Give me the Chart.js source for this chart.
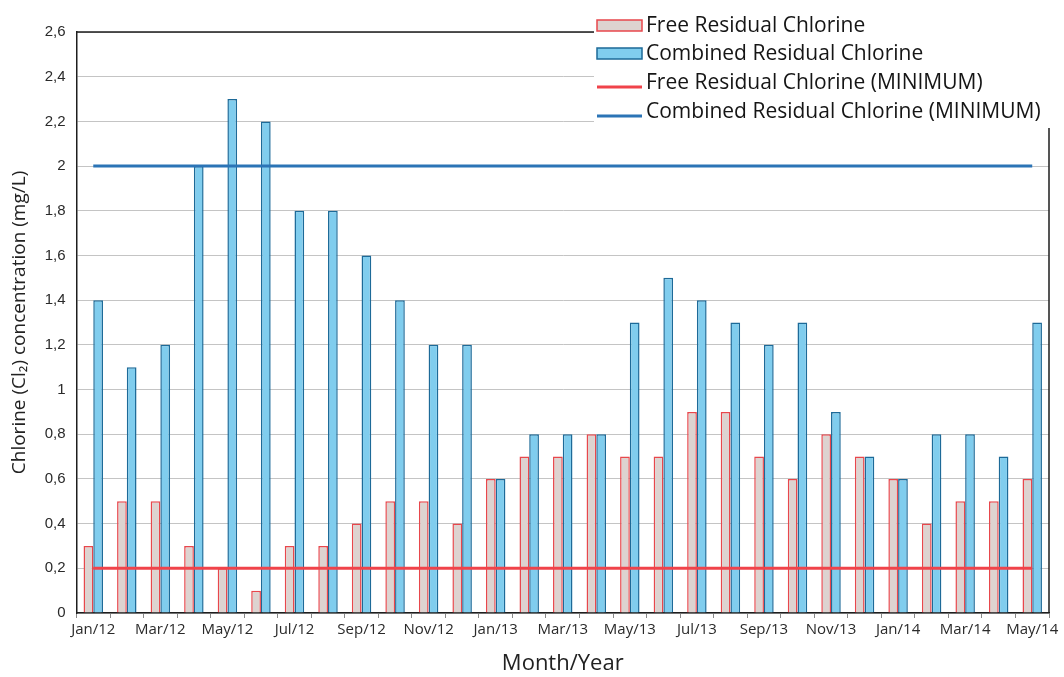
<!DOCTYPE html>
<html>
<head>
<meta charset="utf-8">
<script src="https://cdn.jsdelivr.net/npm/chart.js@4/dist/chart.umd.min.js"></script>
<style>
  html, body { margin: 0; padding: 0; background: #ffffff; }
  #wrap { width: 1064px; height: 677px; position: relative; }
</style>
</head>
<body>
<div id="wrap"><canvas id="c" width="1064" height="677"></canvas></div>
<script>
// Monthly sampling periods
const months = [
  'Jan/12','Feb/12','Mar/12','Apr/12','May/12','Jun/12','Jul/12','Aug/12','Sep/12','Oct/12','Nov/12','Dec/12',
  'Jan/13','Feb/13','Mar/13','Apr/13','May/13','Jun/13','Jul/13','Aug/13','Sep/13','Oct/13','Nov/13','Dec/13',
  'Jan/14','Feb/14','Mar/14','Apr/14','May/14'
];

// Free residual chlorine (mg/L)
const freeResidual = [
  0.3, 0.5, 0.5, 0.3, 0.2, 0.1, 0.3, 0.3, 0.4, 0.5, 0.5, 0.4,
  0.6, 0.7, 0.7, 0.8, 0.7, 0.7, 0.9, 0.9, 0.7, 0.6, 0.8, 0.7,
  0.6, 0.4, 0.5, 0.5, 0.6
];

// Combined residual chlorine (mg/L)
const combinedResidual = [
  1.4, 1.1, 1.2, 2.0, 2.3, 2.2, 1.8, 1.8, 1.6, 1.4, 1.2, 1.2,
  0.6, 0.8, 0.8, 0.8, 1.3, 1.5, 1.4, 1.3, 1.2, 1.3, 0.9, 0.7,
  0.6, 0.8, 0.8, 0.7, 1.3
];

// Regulatory minimum levels (mg/L)
const freeMinimum = 0.2;
const combinedMinimum = 2.0;

// Value axis range
const yMin = 0;
const yMax = 2.6;
const yStep = 0.2;

const seriesLabels = [
  'Free Residual Chlorine',
  'Combined Residual Chlorine',
  'Free Residual Chlorine (MINIMUM)',
  'Combined Residual Chlorine (MINIMUM)'
];

const COL = {
  freeFill: '#ddd3d0',
  freeBorder: '#e8474c',
  combFill: '#80cdee',
  combBorder: '#1d6a98',
  freeLine: '#f0434a',
  combLine: '#2b74b6',
  grid: '#c4c4c4',
  axis: '#1e1e1e',
  text: '#2a2a2a'
};

const first = months[0];
const last = months[months.length - 1];

// Frame lines plus the legend panel at the upper right
const framePlugin = {
  id: 'frame',
  beforeDatasetsDraw(chart) {
    const { ctx, chartArea: a } = chart;
    ctx.save();
    ctx.strokeStyle = COL.axis;
    ctx.lineWidth = 1.5;
    ctx.beginPath();
    ctx.moveTo(a.left, a.top);
    ctx.lineTo(a.right, a.top);
    ctx.moveTo(a.right, a.top);
    ctx.lineTo(a.right, a.bottom);
    ctx.stroke();
    ctx.restore();
  },
  afterDraw(chart) {
    const { ctx } = chart;
    const panelX = 594, panelY = 0, panelW = 1064 - 594, panelH = 128;
    ctx.save();
    ctx.fillStyle = '#ffffff';
    ctx.fillRect(panelX, panelY, panelW, panelH);

    const boxX = 597, boxW = 45;
    const textX = 646;
    const baselines = [32, 60, 89, 118];
    ctx.font = '21px "Open Sans"';
    ctx.textBaseline = 'alphabetic';
    ctx.textAlign = 'left';
    chart.data.datasets.forEach((ds, i) => {
      const b = baselines[i];
      if (ds.type === 'line') {
        ctx.strokeStyle = ds.borderColor;
        ctx.lineWidth = 3;
        ctx.beginPath();
        ctx.moveTo(boxX, b - 2);
        ctx.lineTo(boxX + boxW, b - 2);
        ctx.stroke();
      } else {
        ctx.fillStyle = ds.backgroundColor;
        ctx.fillRect(boxX, b - 12, boxW, 11);
        ctx.strokeStyle = ds.borderColor;
        ctx.lineWidth = 1.5;
        ctx.strokeRect(boxX, b - 12, boxW, 11);
      }
      ctx.fillStyle = '#151515';
      ctx.fillText(ds.label, textX, b);
    });
    ctx.restore();
  }
};

const fmt = v => {
  const n = Number(v.toFixed(1));
  return String(n).replace('.', ',');
};

new Chart(document.getElementById('c'), {
  type: 'bar',
  data: {
    labels: months,
    datasets: [
      {
        type: 'bar',
        label: seriesLabels[0],
        data: freeResidual,
        backgroundColor: COL.freeFill,
        borderColor: COL.freeBorder,
        borderWidth: 1.5,
        borderSkipped: 'bottom',
        order: 2
      },
      {
        type: 'bar',
        label: seriesLabels[1],
        data: combinedResidual,
        backgroundColor: COL.combFill,
        borderColor: COL.combBorder,
        borderWidth: 1.5,
        borderSkipped: 'bottom',
        order: 2
      },
      {
        type: 'line',
        label: seriesLabels[2],
        data: [{ x: first, y: freeMinimum }, { x: last, y: freeMinimum }],
        borderColor: COL.freeLine,
        backgroundColor: COL.freeLine,
        borderWidth: 3,
        pointRadius: 0,
        order: 1
      },
      {
        type: 'line',
        label: seriesLabels[3],
        data: [{ x: first, y: combinedMinimum }, { x: last, y: combinedMinimum }],
        borderColor: COL.combLine,
        backgroundColor: COL.combLine,
        borderWidth: 3,
        pointRadius: 0,
        order: 1
      }
    ]
  },
  options: {
    responsive: false,
    animation: false,
    devicePixelRatio: 1,
    layout: { padding: { top: 32, right: 15, left: 0, bottom: 0 } },
    datasets: {
      bar: { categoryPercentage: 0.58, barPercentage: 1.0 }
    },
    plugins: {
      legend: { display: false },
      tooltip: { enabled: false }
    },
    scales: {
      x: {
        grid: {
          offset: true,
          drawOnChartArea: false,
          drawTicks: true,
          tickLength: 5,
          color: '#888888'
        },
        border: { color: COL.axis, width: 1.5 },
        ticks: {
          autoSkip: false,
          maxRotation: 0,
          minRotation: 0,
          padding: 3,
          color: COL.text,
          font: { family: '"Open Sans"', size: 15 },
          callback(value, index) {
            return index % 2 === 0 ? this.getLabelForValue(value) : '';
          }
        },
        title: {
          display: true,
          text: 'Month/Year',
          color: '#222222',
          font: { family: '"Open Sans"', size: 22 },
          padding: { top: 0, bottom: 0 }
        },
        afterFit(scale) { scale.height = 64; }
      },
      y: {
        min: yMin,
        max: yMax,
        grid: {
          color: COL.grid,
          lineWidth: 1,
          drawTicks: false
        },
        border: { color: COL.axis, width: 1.5 },
        ticks: {
          stepSize: yStep,
          padding: 11,
          color: COL.text,
          font: { family: '"Liberation Sans"', size: 15 },
          callback: v => fmt(v)
        },
        title: {
          display: true,
          text: 'Chlorine (Cl₂) concentration (mg/L)',
          color: '#222222',
          font: { family: '"Open Sans"', size: 19 },
          padding: { top: 8, bottom: 0 }
        },
        afterFit(scale) { scale.width = 76.5; }
      }
    }
  },
  plugins: [framePlugin]
});
</script>
</body>
</html>
